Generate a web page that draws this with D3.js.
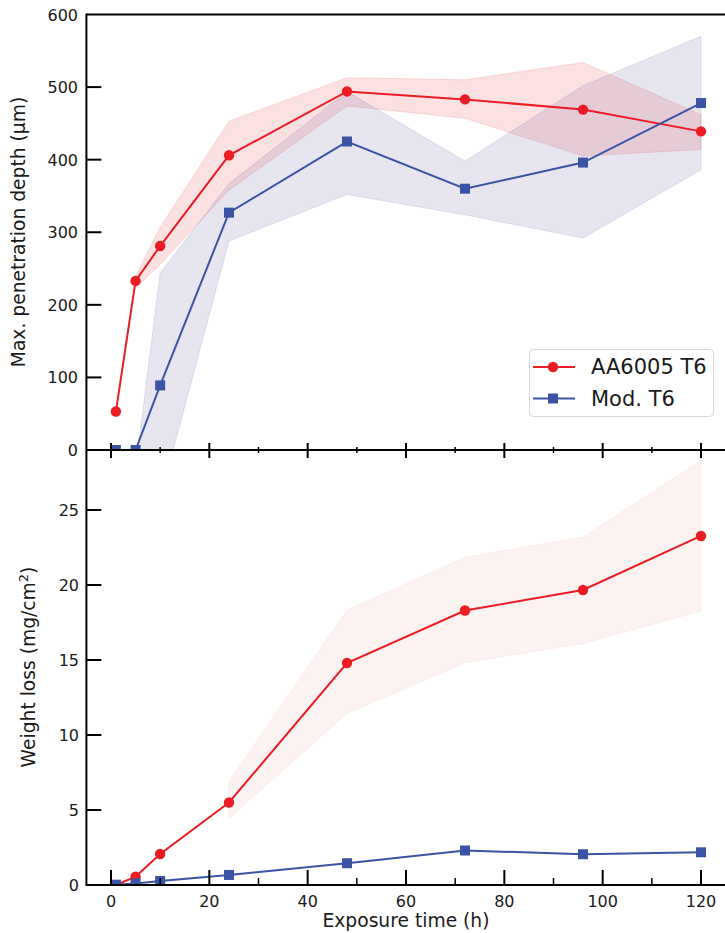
<!DOCTYPE html>
<html>
<head>
<meta charset="utf-8">
<script src="https://cdn.jsdelivr.net/npm/d3@7"></script>
<style>
    html, body { margin: 0; padding: 0; background: #fff; }
    svg { display: block; font-family: "DejaVu Sans", Verdana, sans-serif; }
</style>
</head>
<body>
<div id="chart"></div>
<script>
// =====================================================================
// Data
// =====================================================================
const hours = [1, 5, 10, 24, 48, 72, 96, 120];

// Max. penetration depth (µm)
const depthAA = [53, 233, 281, 406, 494, 483, 469, 439];
const depthAALow = [null, 223, 256, 358, 474, 457, 405, 414];
const depthAAHigh = [null, 240, 307, 453, 513, 510, 534, 462];
const depthMod = [0, 0, 89, 327, 425, 360, 396, 478];
const depthModLow = [null, -110, -67, 288, 352, 324, 292, 386];
const depthModHigh = [null, -26, 244, 367, 494, 398, 502, 570];

// Weight loss (mg/cm2)
const lossAA = [0, 0.55, 2.07, 5.5, 14.8, 18.3, 19.67, 23.27];
const lossAALow = [null, null, null, 4.45, 11.44, 14.82, 16.1, 18.27];
const lossAAHigh = [null, null, null, 6.9, 18.33, 21.84, 23.2, 28.3];
const lossMod = [0.02, 0.1, 0.27, 0.67, 1.45, 2.3, 2.05, 2.18];

const seriesNames = ['AA6005 T6', 'Mod. T6'];
const xMajorTicks = [0, 20, 40, 60, 80, 100, 120];
const xMinorTicks = [10, 30, 50, 70, 90, 110];
const depthTicks = [0, 100, 200, 300, 400, 500, 600];
const lossTicks = [0, 5, 10, 15, 20, 25];

// =====================================================================
// Setup
// =====================================================================
const W = 725, H = 933;
const RED = '#ec1c24';
const BLUE = '#3b53a4';
const TEXT = '#1a1a1a';

const svg = d3.select('#chart').append('svg')
    .attr('width', W)
    .attr('height', H);

const x = d3.scaleLinear().domain([-5, 125]).range([86.4, 725.6]);
const yTop = d3.scaleLinear().domain([0, 600]).range([450, 14.5]);
const yBot = d3.scaleLinear().domain([0, 29]).range([885, 450]);

const left = x(-5);

function rows(vals, lo, hi) {
    return hours.map((h, i) => ({
        h: h,
        v: vals[i],
        lo: lo ? lo[i] : null,
        hi: hi ? hi[i] : null
    }));
}

// =====================================================================
// Panel drawing
// =====================================================================
function drawPanel(id, y, top, bottom, series) {
    const g = svg.append('g');

    g.append('clipPath').attr('id', id)
        .append('rect')
        .attr('x', left).attr('y', top)
        .attr('width', W - left).attr('height', bottom - top);

    const plot = g.append('g').attr('clip-path', `url(#${id})`);

    // bands
    series.forEach(s => {
        if (!s.band) return;
        const area = d3.area()
            .defined(d => d.lo != null && d.hi != null)
            .x(d => x(d.h))
            .y0(d => y(d.lo))
            .y1(d => y(d.hi));
        plot.append('path')
            .datum(s.data)
            .attr('d', area)
            .attr('fill', s.band)
            .attr('stroke', s.band)
            .attr('stroke-width', 1);
    });

    // lines + markers
    series.forEach(s => {
        const line = d3.line().x(d => x(d.h)).y(d => y(d.v));
        plot.append('path')
            .datum(s.data)
            .attr('d', line)
            .attr('fill', 'none')
            .attr('stroke', s.color)
            .attr('stroke-width', 2);

        if (s.marker === 'circle') {
            plot.selectAll(null).data(s.data).enter().append('circle')
                .attr('cx', d => x(d.h))
                .attr('cy', d => y(d.v))
                .attr('r', 5.2)
                .attr('fill', s.color);
        } else {
            plot.selectAll(null).data(s.data).enter().append('rect')
                .attr('x', d => x(d.h) - 5)
                .attr('y', d => y(d.v) - 5)
                .attr('width', 10)
                .attr('height', 10)
                .attr('fill', s.color);
        }
    });

    return g;
}

const topSeries = [
    { data: rows(depthAA, depthAALow, depthAAHigh), color: RED, marker: 'circle', band: 'rgba(228,26,28,0.13)' },
    { data: rows(depthMod, depthModLow, depthModHigh), color: BLUE, marker: 'square', band: 'rgba(72,61,139,0.13)' }
];
const botSeries = [
    { data: rows(lossAA, lossAALow, lossAAHigh), color: RED, marker: 'circle', band: 'rgba(228,26,28,0.06)' },
    { data: rows(lossMod), color: BLUE, marker: 'square', band: null }
];

drawPanel('clipTop', yTop, 14.5, 450, topSeries);
drawPanel('clipBot', yBot, 450, 885, botSeries);

// =====================================================================
// Axes
// =====================================================================
const axes = svg.append('g').attr('stroke', '#000').attr('stroke-width', 2);

// spines
axes.append('line').attr('x1', left).attr('x2', W).attr('y1', yTop(600)).attr('y2', yTop(600));
axes.append('line').attr('x1', left).attr('x2', left).attr('y1', yTop(600) - 1).attr('y2', yBot(0) + 1);
axes.append('line').attr('x1', left).attr('x2', W).attr('y1', 450).attr('y2', 450);
axes.append('line').attr('x1', left).attr('x2', W).attr('y1', yBot(0)).attr('y2', yBot(0));

// shared middle axis: ticks cross the line
axes.selectAll(null).data(xMajorTicks).enter().append('line')
    .attr('x1', d => x(d)).attr('x2', d => x(d))
    .attr('y1', 443).attr('y2', 458);
axes.selectAll(null).data(xMinorTicks).enter().append('line')
    .attr('x1', d => x(d)).attr('x2', d => x(d))
    .attr('y1', 447).attr('y2', 453).attr('stroke-width', 1.5);

// bottom axis: inward ticks
axes.selectAll(null).data(xMajorTicks).enter().append('line')
    .attr('x1', d => x(d)).attr('x2', d => x(d))
    .attr('y1', yBot(0) - 15).attr('y2', yBot(0));
axes.selectAll(null).data(xMinorTicks).enter().append('line')
    .attr('x1', d => x(d)).attr('x2', d => x(d))
    .attr('y1', yBot(0) - 7).attr('y2', yBot(0)).attr('stroke-width', 1.5);

// y ticks (inward)
axes.selectAll(null).data(depthTicks.slice(1, -1)).enter().append('line')
    .attr('x1', left).attr('x2', left + 15)
    .attr('y1', d => yTop(d)).attr('y2', d => yTop(d));
axes.selectAll(null).data(lossTicks.slice(1)).enter().append('line')
    .attr('x1', left).attr('x2', left + 15)
    .attr('y1', d => yBot(d)).attr('y2', d => yBot(d));

// tick labels
const labels = svg.append('g').attr('fill', TEXT).attr('font-size', 16);

labels.selectAll(null).data(depthTicks).enter().append('text')
    .attr('x', 78).attr('y', d => yTop(d) + 6)
    .attr('text-anchor', 'end')
    .text(d => d);
labels.selectAll(null).data(lossTicks).enter().append('text')
    .attr('x', 79).attr('y', d => yBot(d) + 6)
    .attr('text-anchor', 'end')
    .text(d => d);
labels.selectAll(null).data(xMajorTicks).enter().append('text')
    .attr('x', d => x(d)).attr('y', 907)
    .attr('text-anchor', 'middle')
    .text(d => d);

// axis titles
svg.append('text')
    .attr('transform', 'translate(25,232) rotate(-90)')
    .attr('text-anchor', 'middle')
    .attr('font-size', 18.7).attr('fill', TEXT)
    .text('Max. penetration depth (µm)');

const wl = svg.append('text')
    .attr('transform', 'translate(35,667) rotate(-90)')
    .attr('text-anchor', 'middle')
    .attr('font-size', 18.7).attr('fill', TEXT);
wl.append('tspan').text('Weight loss (mg/cm');
wl.append('tspan').attr('dy', -7).attr('font-size', 13).text('2');
wl.append('tspan').attr('dy', 7).text(')');

svg.append('text')
    .attr('x', x(60)).attr('y', 927)
    .attr('text-anchor', 'middle')
    .attr('font-size', 18.7).attr('fill', TEXT)
    .text('Exposure time (h)');

// =====================================================================
// Legend
// =====================================================================
const legend = svg.append('g');
legend.append('rect')
    .attr('x', 529.5).attr('y', 349.5)
    .attr('width', 184).attr('height', 67)
    .attr('rx', 4)
    .attr('fill', 'rgba(255,255,255,0.8)')
    .attr('stroke', '#d6d6d6');

const legendRows = [
    { name: seriesNames[0], color: RED, marker: 'circle', y: 367 },
    { name: seriesNames[1], color: BLUE, marker: 'square', y: 398.5 }
];
legendRows.forEach(r => {
    legend.append('line')
        .attr('x1', 533).attr('x2', 575)
        .attr('y1', r.y).attr('y2', r.y)
        .attr('stroke', r.color).attr('stroke-width', 2);
    if (r.marker === 'circle') {
        legend.append('circle').attr('cx', 553).attr('cy', r.y).attr('r', 5.2).attr('fill', r.color);
    } else {
        legend.append('rect').attr('x', 548).attr('y', r.y - 5).attr('width', 10).attr('height', 10).attr('fill', r.color);
    }
    legend.append('text')
        .attr('x', 591).attr('y', r.y + 7)
        .attr('font-size', 21).attr('fill', TEXT)
        .text(r.name);
});
</script>
</body>
</html>
